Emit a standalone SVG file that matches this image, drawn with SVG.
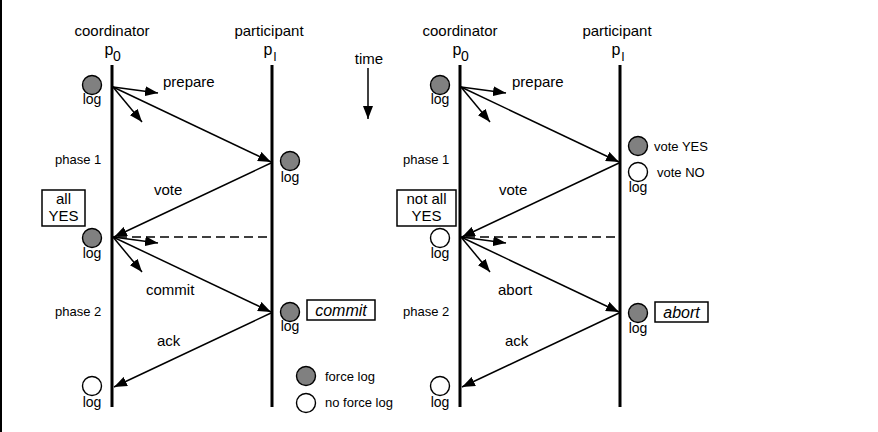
<svg xmlns="http://www.w3.org/2000/svg" width="878" height="432" viewBox="0 0 878 432">
<style>
text{font-family:"Liberation Sans",Arial,sans-serif;fill:#000}
.lbl{font-size:15px}
.sm{font-size:13px}
.log{font-size:14px;text-anchor:middle}
.mid{text-anchor:middle}
.it{font-size:16px;font-style:italic;text-anchor:middle}
.life{stroke:#000;stroke-width:3;fill:none}
.msg{stroke:#000;stroke-width:1.5;fill:none;marker-end:url(#ah)}
.dash{stroke:#000;stroke-width:1.6;fill:none;stroke-dasharray:9 5}
.box{fill:#fff;stroke:#000;stroke-width:1.5}
.force{fill:#808080;stroke:#000;stroke-width:1.4}
.noforce{fill:#fff;stroke:#000;stroke-width:1.4}
</style>
<defs>
<marker id="ah" markerUnits="userSpaceOnUse" markerWidth="14" markerHeight="10" refX="13" refY="5" orient="auto">
<path d="M0,0 L13,5 L0,10 Z" fill="#000"/>
</marker>
</defs>
<rect x="0" y="0" width="878" height="432" fill="#fff"/>
<line x1="1" y1="0" x2="1" y2="432" stroke="#000" stroke-width="2"/>

<!-- Left diagram -->
<g id="left-coordinator">
<text class="lbl mid" x="112" y="36">coordinator</text>
<text x="109" y="55" style="font-size:16px" text-anchor="middle">p</text>
<text x="117" y="61" style="font-size:14px" text-anchor="middle">0</text>
<line class="life" x1="112" y1="65" x2="112" y2="407"/>
</g>
<g id="left-participant">
<text class="lbl mid" x="269" y="36">participant</text>
<text x="268" y="55" style="font-size:16px" text-anchor="middle">p</text>
<text x="275" y="61" style="font-size:13px" text-anchor="middle">l</text>
<line class="life" x1="272" y1="65" x2="272" y2="407"/>
</g>
<g id="time">
<text class="lbl mid" x="369" y="64">time</text>
<line class="msg" x1="368" y1="68" x2="368" y2="119"/>
</g>
<g id="left-log1"><circle class="force" cx="92" cy="85" r="9.5"/><text class="log" x="92" y="104">log</text></g>
<g id="left-phase1"><text class="sm" x="55" y="164">phase 1</text></g>
<g id="left-allyes"><rect class="box" x="42" y="190" width="43" height="36"/><text class="lbl mid" x="63.5" y="204">all</text><text class="lbl mid" x="63.5" y="221">YES</text></g>
<g id="left-log2"><circle class="force" cx="92" cy="238" r="9.5"/><text class="log" x="92" y="258">log</text></g>
<g id="left-phase2"><text class="sm" x="55" y="316">phase 2</text></g>
<g id="left-log3"><circle class="noforce" cx="92" cy="386" r="9.5"/><text class="log" x="92" y="407">log</text></g>
<g id="left-plog1"><circle class="force" cx="290" cy="161" r="9.5"/><text class="log" x="290" y="182">log</text></g>
<g id="left-plog2"><circle class="force" cx="290" cy="312" r="9.5"/><text class="log" x="290" y="331">log</text></g>
<g id="left-commitbox"><rect class="box" x="307" y="300" width="68" height="20"/><text class="it" x="341" y="316">commit</text></g>
<g id="legend">
<circle class="force" cx="306" cy="376" r="9.5"/><text class="sm" x="325" y="381">force log</text>
<circle class="noforce" cx="306" cy="403" r="9.5"/><text class="sm" x="325" y="407">no force log</text>
</g>
<g id="left-labels">
<text class="lbl" x="163" y="87">prepare</text>
<text class="lbl" x="154" y="195">vote</text>
<text class="lbl" x="146" y="295">commit</text>
<text class="lbl" x="157" y="346">ack</text>
</g>

<!-- Right diagram -->
<g id="right-coordinator">
<text class="lbl mid" x="460" y="36">coordinator</text>
<text x="457" y="55" style="font-size:16px" text-anchor="middle">p</text>
<text x="465" y="61" style="font-size:14px" text-anchor="middle">0</text>
<line class="life" x1="460" y1="65" x2="460" y2="407"/>
</g>
<g id="right-participant">
<text class="lbl mid" x="617" y="36">participant</text>
<text x="616" y="55" style="font-size:16px" text-anchor="middle">p</text>
<text x="623" y="61" style="font-size:13px" text-anchor="middle">l</text>
<line class="life" x1="620" y1="65" x2="620" y2="407"/>
</g>
<g id="right-log1"><circle class="force" cx="440" cy="85" r="9.5"/><text class="log" x="440" y="104">log</text></g>
<g id="right-phase1"><text class="sm" x="403" y="164">phase 1</text></g>
<g id="right-notallyes"><rect class="box" x="397" y="190" width="59" height="36"/><text class="lbl mid" x="426.5" y="204">not all</text><text class="lbl mid" x="426.5" y="221">YES</text></g>
<g id="right-log2"><circle class="noforce" cx="440" cy="238" r="9.5"/><text class="log" x="440" y="258">log</text></g>
<g id="right-phase2"><text class="sm" x="403" y="316">phase 2</text></g>
<g id="right-log3"><circle class="noforce" cx="440" cy="386" r="9.5"/><text class="log" x="440" y="407">log</text></g>
<g id="right-vote">
<circle class="force" cx="638" cy="146" r="9.5"/><text class="sm" x="654" y="151">vote YES</text>
<circle class="noforce" cx="638" cy="172" r="9.5"/><text class="sm" x="657" y="177">vote NO</text>
<text class="log" x="638" y="192">log</text>
</g>
<g id="right-plog2"><circle class="force" cx="638" cy="313" r="9.5"/><text class="log" x="638" y="333">log</text></g>
<g id="right-abortbox"><rect class="box" x="655" y="302" width="53" height="20"/><text class="it" x="681.5" y="318">abort</text></g>
<g id="right-labels">
<text class="lbl" x="512" y="87">prepare</text>
<text class="lbl" x="499" y="195">vote</text>
<text class="lbl" x="498" y="295">abort</text>
<text class="lbl" x="505" y="346">ack</text>
</g>

<g id="connectors">
<line class="msg" x1="113" y1="87" x2="158" y2="93"/>
<line class="msg" x1="113" y1="87" x2="142" y2="122"/>
<line class="msg" x1="113" y1="87" x2="271" y2="162"/>
<line class="msg" x1="271" y1="163" x2="114" y2="237"/>
<line class="dash" x1="118" y1="237" x2="271" y2="237"/>
<line class="msg" x1="113" y1="237" x2="158" y2="243"/>
<line class="msg" x1="113" y1="237" x2="142" y2="272"/>
<line class="msg" x1="113" y1="237" x2="271" y2="312"/>
<line class="msg" x1="271" y1="313" x2="114" y2="387"/>

<line class="msg" x1="461" y1="87" x2="506" y2="93"/>
<line class="msg" x1="461" y1="87" x2="490" y2="122"/>
<line class="msg" x1="461" y1="87" x2="619" y2="162"/>
<line class="msg" x1="619" y1="163" x2="462" y2="237"/>
<line class="dash" x1="466" y1="237" x2="619" y2="237"/>
<line class="msg" x1="461" y1="237" x2="506" y2="243"/>
<line class="msg" x1="461" y1="237" x2="490" y2="272"/>
<line class="msg" x1="461" y1="237" x2="619" y2="312"/>
<line class="msg" x1="619" y1="313" x2="462" y2="387"/>
</g>
</svg>
